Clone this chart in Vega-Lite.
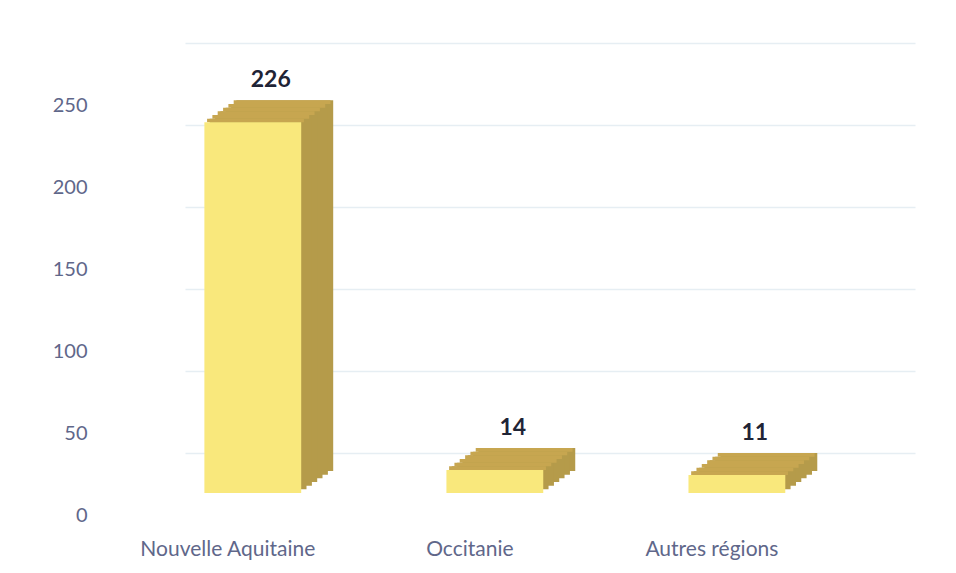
{
  "$schema": "https://vega.github.io/schema/vega-lite/v6.json",
  "autosize": {"type": "none"},
  "padding": {"left": 185, "top": 43, "right": 41, "bottom": 38},
  "width": 730,
  "height": 492,
  "background": "#ffffff",
  "config": {"view": {"stroke": null}, "font": "Lato"},
  "data": {"values": [
    {"region": "Nouvelle Aquitaine", "value": 226},
    {"region": "Occitanie", "value": 14},
    {"region": "Autres régions", "value": 11}
  ]},
  "encoding": {
    "x": {
      "field": "region", "type": "nominal", "sort": null,
      "scale": {"paddingInner": 0.6, "paddingOuter": 0.308, "align": 0.13},
      "axis": {"title": null, "domain": false, "ticks": false, "labelAngle": 0,
        "labelFont": "Lato", "labelFontSize": 21, "labelFontWeight": "normal", "labelColor": "#60678A",
        "labelOffset": -25, "labelPadding": 3}
    },
    "y": {
      "field": "value", "type": "quantitative",
      "scale": {"domain": [0, 300], "nice": false},
      "axis": {"title": null, "domain": false, "ticks": false,
        "values": [0, 50, 100, 150, 200, 250, 300],
        "labelExpr": "datum.value == 300 ? '' : datum.label",
        "labelFont": "Lato", "labelFontSize": 20, "labelFontWeight": "normal", "labelColor": "#60678A",
        "labelPadding": 98, "labelOffset": -20,
        "gridColor": "#E6EEF3", "gridWidth": 1.5,
        "gridOpacity": {"condition": {"test": "datum.value === 0", "value": 0}, "value": 1}}
    }
  },
  "layer": [
    {"mark": {"type": "bar", "color": "#B59B4A", "xOffset": 32, "x2Offset": 32, "yOffset": -64, "y2Offset": -64}, "encoding": {}},
    {"mark": {"type": "bar", "color": "#B59B4A", "xOffset": 26.7, "x2Offset": 26.7, "yOffset": -60.3, "y2Offset": -60.3}, "encoding": {}},
    {"mark": {"type": "bar", "color": "#B59B4A", "xOffset": 21.3, "x2Offset": 21.3, "yOffset": -56.7, "y2Offset": -56.7}, "encoding": {}},
    {"mark": {"type": "bar", "color": "#B59B4A", "xOffset": 16, "x2Offset": 16, "yOffset": -53, "y2Offset": -53}, "encoding": {}},
    {"mark": {"type": "bar", "color": "#B59B4A", "xOffset": 10.7, "x2Offset": 10.7, "yOffset": -49.3, "y2Offset": -49.3}, "encoding": {}},
    {"mark": {"type": "bar", "color": "#B59B4A", "xOffset": 5.3, "x2Offset": 5.3, "yOffset": -45.7, "y2Offset": -45.7}, "encoding": {}},
    {"mark": {"type": "bar", "color": "#C7A650", "xOffset": 29.3, "x2Offset": 29.3, "yOffset": -64, "y2Offset": -60.3}, "encoding": {"y2": {"field": "value"}}},
    {"mark": {"type": "bar", "color": "#C7A650", "xOffset": 24, "x2Offset": 24, "yOffset": -60.3, "y2Offset": -56.7}, "encoding": {"y2": {"field": "value"}}},
    {"mark": {"type": "bar", "color": "#C7A650", "xOffset": 18.7, "x2Offset": 18.7, "yOffset": -56.7, "y2Offset": -53}, "encoding": {"y2": {"field": "value"}}},
    {"mark": {"type": "bar", "color": "#C7A650", "xOffset": 13.3, "x2Offset": 13.3, "yOffset": -53, "y2Offset": -49.3}, "encoding": {"y2": {"field": "value"}}},
    {"mark": {"type": "bar", "color": "#C7A650", "xOffset": 8, "x2Offset": 8, "yOffset": -49.3, "y2Offset": -45.7}, "encoding": {"y2": {"field": "value"}}},
    {"mark": {"type": "bar", "color": "#C7A650", "xOffset": 2.7, "x2Offset": 2.7, "yOffset": -45.7, "y2Offset": -42}, "encoding": {"y2": {"field": "value"}}},
    {"mark": {"type": "bar", "color": "#F9E87C", "yOffset": -42, "y2Offset": -42}, "encoding": {}},
    {
      "mark": {"type": "text", "font": "Lato", "fontSize": 23, "fontWeight": "bold", "color": "#1F2436", "baseline": "bottom", "xOffset": 18, "yOffset": -72},
      "encoding": {"text": {"field": "value", "type": "quantitative"}}
    }
  ]
}
